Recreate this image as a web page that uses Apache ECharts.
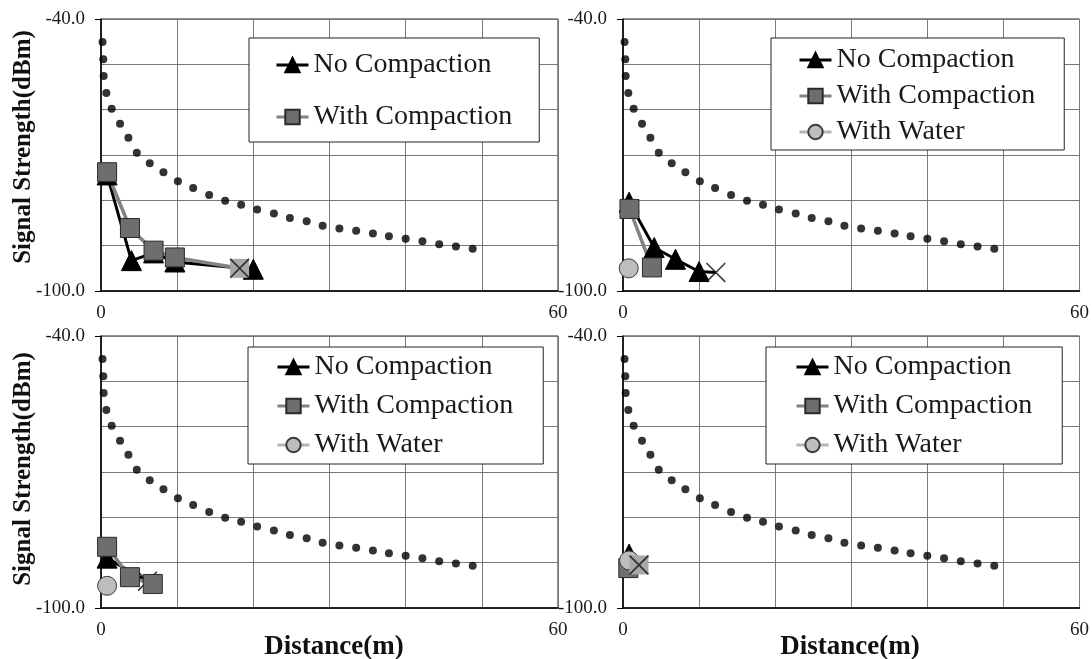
<!DOCTYPE html>
<html>
<head>
<meta charset="utf-8">
<script src="https://cdn.jsdelivr.net/npm/echarts@6/dist/echarts.min.js"></script>
<style>
html, body { margin: 0; padding: 0; background: #fff; }
#chart { width: 1092px; height: 659px; }
</style>
</head>
<body>
<div id="chart"></div>
<script>
// tick labels
const distanceTicks = [0, 60];
const strengthTicks = [-100, -40];

// model curve (same in every panel)
const modelDist = [0.2, 0.3, 0.35, 0.7, 1.4, 2.5, 3.6, 4.7, 6.4, 8.2, 10.1, 12.1, 14.2, 16.3, 18.4,
    20.5, 22.7, 24.8, 27.0, 29.1, 31.3, 33.5, 35.7, 37.8, 40.0, 42.2, 44.4, 46.6, 48.8];
const modelSignal = [-45.1, -48.9, -52.6, -56.3, -59.8, -63.1, -66.2, -69.5, -71.8, -73.8, -75.8, -77.3,
    -78.8, -80.1, -81.0, -82.0, -82.9, -83.9, -84.6, -85.6, -86.2, -86.7, -87.3, -87.9, -88.5, -89.0,
    -89.7, -90.2, -90.7];

// panel 1
const noComp1 = [[0.8, -74.4], [4.0, -93.3], [6.9, -91.6], [9.7, -93.6], [20.0, -95.2]];
const comp1 = [[0.8, -73.8], [3.8, -86.1], [6.9, -91.1], [9.7, -92.6]];
const lost1 = [18.2, -95.0];
// panel 2
const noComp2 = [[0.8, -80.4], [4.1, -90.4], [6.9, -93.0], [10.0, -95.7]];
const comp2 = [[0.85, -81.9], [3.8, -94.8]];
const water2 = [[0.75, -95.0]];
const lost2 = [12.2, -95.9];
// panel 3
const noComp3 = [[0.8, -89.0]];
const comp3 = [[0.8, -86.5], [3.8, -93.2], [6.8, -94.7]];
const water3 = [[0.8, -95.1]];
const lost3 = [6.1, -94.1];
// panel 4
const noComp4 = [[0.8, -88.1]];
const comp4 = [[0.7, -91.2]];
const water4 = [[0.8, -89.5]];
const lost4 = [2.1, -90.5];

const SERIF = '"Liberation Serif", "Times New Roman", serif';
const X_PATH = 'path://M0,1.2L1.2,0L20,18.8L18.8,20ZM18.8,0L20,1.2L1.2,20L0,18.8Z';

const panels = [
    { left: 101, top: 19, noComp: noComp1, comp: comp1, water: null, lost: lost1, lostOn: 'comp', box: true,
      legend: { left: 249, top: 38, padding: [12, 27, 10, 26], itemGap: 22 } },
    { left: 623, top: 19, noComp: noComp2, comp: comp2, water: water2, lost: lost2, lostOn: 'noComp', box: false,
      legend: { left: 771, top: 38, padding: [7, 29, 3, 27], itemGap: 6 } },
    { left: 101, top: 336, noComp: noComp3, comp: comp3, water: water3, lost: lost3, lostOn: 'noComp', box: false,
      legend: { left: 248, top: 347, padding: [5, 30, 4, 28], itemGap: 9 } },
    { left: 623, top: 336, noComp: noComp4, comp: comp4, water: water4, lost: lost4, lostOn: 'water', box: true,
      legend: { left: 766, top: 347, padding: [5, 30, 4, 29], itemGap: 9 } },
];

const styles = {
    noComp: { name: 'No Compaction', symbol: 'triangle', size: 20, color: '#000', border: '#000', line: '#000', width: 3 },
    comp: { name: 'With Compaction', symbol: 'rect', size: 19, color: '#6e6e6e', border: '#2a2a2a', line: '#828282', width: 3.5 },
    water: { name: 'With Water', symbol: 'circle', size: 19, color: '#bdbdbd', border: '#3a3a3a', line: '#b5b5b5', width: 3.5 },
};

const grids = [], xAxes = [], yAxes = [], series = [], legends = [];

panels.forEach((p, i) => {
    grids.push({ left: p.left, top: p.top, width: 457, height: 272, show: true,
        borderColor: '#222', borderWidth: 1, containLabel: false });
    xAxes.push({
        type: 'value', gridIndex: i, min: 0, max: 60, interval: 10,
        axisLine: { show: true, onZero: false, lineStyle: { color: '#000', width: 1.5 } },
        axisTick: { show: false },
        splitLine: { show: true, lineStyle: { color: '#7a7a7a', width: 1 } },
        axisLabel: { fontFamily: SERIF, fontSize: 19, color: '#1a1a1a', margin: 13,
            formatter: v => distanceTicks.includes(v) ? String(v) : '' }
    });
    // grid lines + end labels
    yAxes.push({
        type: 'value', gridIndex: i, min: -100, max: -40, interval: 10,
        axisLine: { show: true, onZero: false, lineStyle: { color: '#000', width: 1.5 } },
        axisTick: { show: false },
        splitLine: { show: true, lineStyle: { color: '#7a7a7a', width: 1 } },
        axisLabel: { fontFamily: SERIF, fontSize: 19, color: '#1a1a1a', margin: 16,
            formatter: v => strengthTicks.includes(v) ? v.toFixed(1) : '' }
    });
    // end ticks only (same span as -100..-40)
    yAxes.push({
        type: 'value', gridIndex: i, min: 0, max: 60, interval: 60, position: 'left',
        axisLine: { show: false }, splitLine: { show: false }, axisLabel: { show: false },
        axisTick: { show: true, length: 6, lineStyle: { color: '#000', width: 1 } }
    });
    const yi = i * 2;

    series.push({
        name: 'model', type: 'scatter', xAxisIndex: i, yAxisIndex: yi,
        data: modelDist.map((d, k) => [d, modelSignal[k]]),
        symbol: 'circle', symbolSize: 8, itemStyle: { color: '#000' }, z: 2
    });

    const names = p.water ? ['noComp', 'comp', 'water'] : ['noComp', 'comp'];
    names.forEach(key => {
        const s = styles[key];
        const data = p[key].map(pt => pt.slice());
        if (p.lostOn === key) {
            data.push({ value: p.lost.slice(), symbol: p.box ? 'rect' : 'none', symbolSize: 19,
                itemStyle: { color: '#a8a8a8', borderWidth: 0 } });
        }
        series.push({
            name: s.name, type: 'line', xAxisIndex: i, yAxisIndex: yi, data: data,
            symbol: s.symbol, symbolSize: s.size, showSymbol: true,
            lineStyle: { color: s.line, width: s.width },
            itemStyle: { color: s.color, borderColor: s.border, borderWidth: 1 },
            z: 3
        });
        if (p.lostOn === key) {
            series.push({
                name: 'lost', type: 'scatter', xAxisIndex: i, yAxisIndex: yi, data: [p.lost.slice()],
                symbol: X_PATH, symbolSize: 20, itemStyle: { color: '#111' }, z: 3
            });
        }
    });

    legends.push(Object.assign({
        orient: 'vertical', selectedMode: false,
        data: names.map(k => styles[k].name),
        itemWidth: 32, itemHeight: 18,
        lineStyle: { width: 3 },
        backgroundColor: '#fff', borderColor: '#222', borderWidth: 1, borderRadius: 0,
        textStyle: { fontFamily: SERIF, fontSize: 28, color: '#1a1a1a', lineHeight: 30 }
    }, p.legend));
});

const titleStyle = { fontFamily: SERIF, fontWeight: 'bold', fill: '#111',
    textAlign: 'center', textVerticalAlign: 'middle' };

const chart = echarts.init(document.getElementById('chart'));
chart.setOption({
    animation: false,
    backgroundColor: '#fff',
    grid: grids,
    xAxis: xAxes,
    yAxis: yAxes,
    legend: legends,
    series: series,
    graphic: [
        { type: 'text', x: 24, y: 147, rotation: Math.PI / 2,
          style: Object.assign({ text: 'Signal Strength(dBm)', fontSize: 25 }, titleStyle) },
        { type: 'text', x: 24, y: 469, rotation: Math.PI / 2,
          style: Object.assign({ text: 'Signal Strength(dBm)', fontSize: 25 }, titleStyle) },
        { type: 'text', x: 334, y: 647,
          style: Object.assign({ text: 'Distance(m)', fontSize: 27 }, titleStyle) },
        { type: 'text', x: 850, y: 647,
          style: Object.assign({ text: 'Distance(m)', fontSize: 27 }, titleStyle) },
    ]
});
</script>
</body>
</html>
